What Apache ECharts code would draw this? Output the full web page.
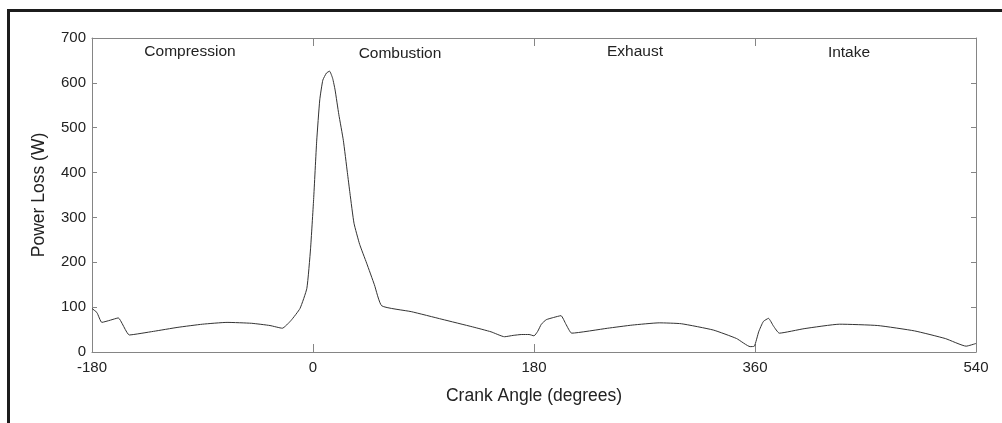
<!DOCTYPE html>
<html>
<head>
<meta charset="utf-8">
<script src="https://cdn.jsdelivr.net/npm/echarts@6/dist/echarts.min.js"></script>
<style>
html,body{margin:0;padding:0;background:#fff;}
#chart{width:1002px;height:423px;}
</style>
</head>
<body>
<div id="chart"></div>
<script>
// Crank angle (degrees)
const crankAngle = [
  -180, -176, -172, -165, -158.6, -149.6, -130, -110, -90, -70, -50, -35, -25,
  -18, -10.6, -5, -2, 0.5, 3, 5.5, 8, 11, 13.5, 16, 18, 21, 24.7, 28, 30.1, 33.4,
  38, 43.7, 50, 56, 80, 105, 130, 145, 156, 163, 170, 176, 180, 183, 186, 190, 196,
  202, 206, 210.7, 240, 260, 282, 300, 326, 345, 356, 359.5, 363, 366.8, 371, 375,
  379.8, 400, 429, 460, 490, 515, 532, 540
];
// Power loss (W)
const powerLoss = [
  97, 88, 66, 71, 76, 38, 46, 55, 62, 66, 64, 59, 53,
  70, 97, 142, 230, 340, 470, 562, 606, 622, 626, 610, 584, 530, 472, 400, 354, 287,
  240, 198, 150, 103, 90, 73, 56, 45, 34, 37, 39, 39, 36, 46, 62, 72, 77,
  81, 62, 42, 53, 60, 65, 63, 49, 30, 12, 13, 45, 68, 75, 58,
  42, 52, 62, 59, 47, 30, 13, 19
];
const xTicks = [-180, 0, 180, 360, 540];
const yTicks = [0, 100, 200, 300, 400, 500, 600, 700];
const phaseNames = ['Compression', 'Combustion', 'Exhaust', 'Intake'];

const chart = echarts.init(document.getElementById('chart'), null, {renderer: 'canvas'});
const FONT = 'Liberation Sans, Arial, Helvetica, sans-serif';
const boxColor = '#858585';
const textColor = '#222';

const seriesData = crankAngle.map((a, i) => [a, powerLoss[i]]);

const phaseX = [190, 400, 635, 849];
const phaseY = [52, 54, 51.5, 52.5];

chart.setOption({
  animation: false,
  backgroundColor: '#fff',
  grid: {left: 92, right: 26, top: 38, bottom: 71, show: false},
  xAxis: [{
    type: 'value', position: 'bottom',
    min: xTicks[0], max: xTicks[xTicks.length - 1], interval: 180,
    axisLine: {show: true, onZero: false, lineStyle: {color: boxColor, width: 1}},
    axisTick: {show: true, inside: true, length: 8, lineStyle: {color: boxColor}},
    axisLabel: {color: textColor, fontSize: 15, fontFamily: FONT, margin: 8},
    splitLine: {show: false},
    name: 'Crank Angle (degrees)', nameLocation: 'middle', nameGap: 35,
    nameTextStyle: {color: textColor, fontSize: 17.5, fontFamily: FONT}
  }, {
    type: 'value', position: 'top',
    min: xTicks[0], max: xTicks[xTicks.length - 1], interval: 180,
    axisLine: {show: true, onZero: false, lineStyle: {color: boxColor, width: 1}},
    axisTick: {show: true, inside: true, length: 8, lineStyle: {color: boxColor}},
    axisLabel: {show: false},
    splitLine: {show: false}
  }],
  yAxis: [{
    type: 'value', position: 'left',
    min: yTicks[0], max: yTicks[yTicks.length - 1], interval: 100,
    axisLine: {show: true, onZero: false, lineStyle: {color: boxColor, width: 1}},
    axisTick: {show: true, inside: true, length: 5, lineStyle: {color: boxColor}},
    axisLabel: {color: textColor, fontSize: 15, fontFamily: FONT, margin: 6},
    splitLine: {show: false},
    name: 'Power Loss (W)', nameLocation: 'middle', nameGap: 44, nameRotate: 90,
    nameTextStyle: {color: textColor, fontSize: 17.5, fontFamily: FONT}
  }, {
    type: 'value', position: 'right',
    min: yTicks[0], max: yTicks[yTicks.length - 1], interval: 100,
    axisLine: {show: true, onZero: false, lineStyle: {color: boxColor, width: 1}},
    axisTick: {show: true, inside: true, length: 5, lineStyle: {color: boxColor}},
    axisLabel: {show: false},
    splitLine: {show: false}
  }],
  series: [{
    type: 'line',
    xAxisIndex: 0, yAxisIndex: 0,
    data: seriesData,
    showSymbol: false,
    smooth: 0.15,
    lineStyle: {color: '#333', width: 1},
    z: 3
  }],
  graphic: [
    {type: 'rect', left: 7, top: 9, shape: {width: 995, height: 3}, style: {fill: '#1c1c1c'}},
    {type: 'rect', left: 7, top: 9, shape: {width: 3, height: 414}, style: {fill: '#1c1c1c'}}
  ].concat(phaseNames.map((n, i) => ({
    type: 'text', x: phaseX[i], y: phaseY[i],
    style: {text: n, fill: textColor, font: '15.5px ' + FONT, align: 'center', verticalAlign: 'middle'}
  })))
});
</script>
</body>
</html>
